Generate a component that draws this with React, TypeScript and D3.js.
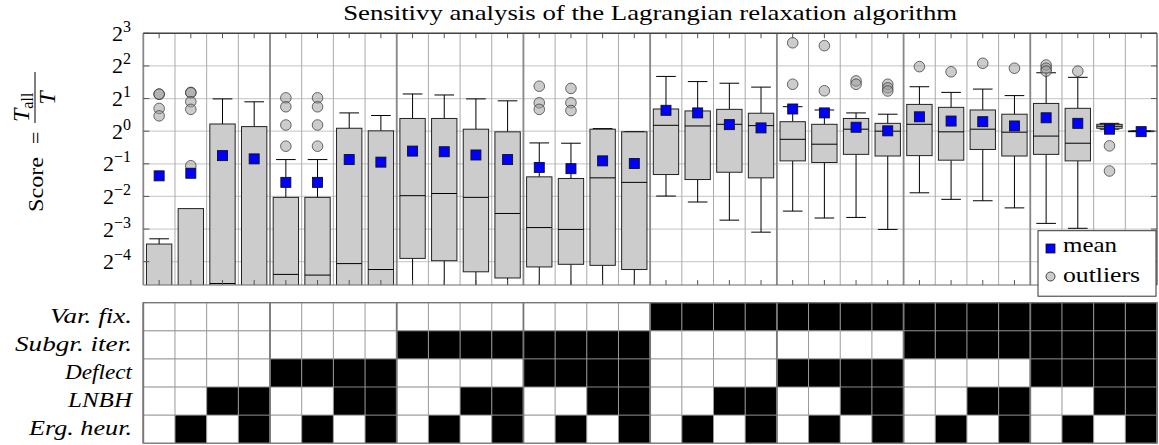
import React from "react";
import * as d3 from "d3";

const W = 1159;
const H = 445;
const plot = { left: 143.3, right: 1157, top: 33.3, bottom: 285 };
const matrix = { top: 302.7, rowH: 28.1 };

const chartTitle = "Sensitivy analysis of the Lagrangian relaxation algorithm";

// per configuration (32 columns), score values
const lowWhisker = [
  0.0078, 0.0078, 0.0078, 0.0078, 0.0078, 0.0078, 0.0078, 0.0078,
  0.0156, 0.0156, 0.0156, 0.0156, 0.0156, 0.0156, 0.0156, 0.0156,
  0.252, 0.222, 0.151, 0.117, 0.183, 0.158, 0.16, 0.124,
  0.27, 0.235, 0.228, 0.196, 0.141, 0.127, 1.043, 1.0,
];
const q1 = [
  0.011, 0.011, 0.0156, 0.011, 0.0156, 0.0156, 0.0156, 0.0156,
  0.067, 0.0638, 0.0504, 0.0442, 0.0559, 0.0591, 0.0578, 0.0529,
  0.398, 0.358, 0.418, 0.371, 0.532, 0.514, 0.611, 0.59,
  0.595, 0.54, 0.678, 0.59, 0.611, 0.532, 1.064, 1.0,
];
const median = [
  0.0221, 0.0221, 0.0393, 0.0272, 0.0477, 0.047, 0.06, 0.0529,
  0.254, 0.266, 0.245, 0.174, 0.129, 0.124, 0.371, 0.337,
  1.133, 1.117, 1.157, 1.125, 0.841, 0.758, 1.043, 1.0,
  1.157, 0.986, 1.043, 0.979, 0.901, 0.774, 1.11, 1.0,
];
const q3 = [
  0.0909, 0.193, 1.165, 1.102, 0.245, 0.245, 1.064, 1.007,
  1.31, 1.31, 1.043, 0.986, 0.379, 0.366, 1.043, 0.986,
  1.602, 1.537, 1.59, 1.464, 1.223, 1.157, 1.31, 1.181,
  1.766, 1.659, 1.569, 1.434, 1.803, 1.625, 1.157, 1.0,
];
const highWhisker = [
  0.1016, 0.102, 1.986, 1.866, 0.547, 0.547, 1.474, 1.395,
  2.204, 2.158, 1.986, 1.905, 0.779, 0.774, 1.057, 0.993,
  3.2, 2.868, 2.77, 2.55, 1.682, 1.569, 1.474, 1.434,
  2.57, 2.28, 2.445, 2.129, 3.46, 3.14, 1.181, 1.0,
];
const means = [
  0.387, 0.409, 0.595, 0.555, 0.337, 0.337, 0.547, 0.518,
  0.655, 0.646, 0.603, 0.547, 0.463, 0.451, 0.532, 0.503,
  1.558, 1.474, 1.149, 1.072, 1.602, 1.474, 1.087, 1.007,
  1.357, 1.24, 1.223, 1.117, 1.329, 1.181, 1.043, 0.99,
];
const outliers: number[][] = [
  [2.19, 2.2, 1.62, 1.385],
  [2.28, 2.26, 1.87, 1.59, 0.48],
  [],
  [],
  [2.03, 1.68, 1.14, 0.727],
  [2.03, 1.68, 1.14, 0.727],
  [],
  [],
  [],
  [],
  [],
  [],
  [2.6, 1.828, 1.59],
  [2.48, 1.83, 1.55],
  [],
  [],
  [],
  [],
  [],
  [],
  [6.54, 2.71],
  [6.15, 2.36],
  [2.91, 2.71],
  [2.71, 2.51, 2.35],
  [3.94],
  [3.53],
  [4.23],
  [3.81],
  [4.08, 3.81, 3.58],
  [3.58],
  [0.732, 0.429],
  [],
];

const yTickExponents = [-4, -3, -2, -1, 0, 1, 2, 3];
const yTickLabels = ["\u22124", "\u22123", "\u22122", "\u22121", "0", "1", "2", "3"];

const factorNames = ["Var. fix.", "Subgr. iter.", "Deflect", "LNBH", "Erg. heur."];
const factorRows = [
  "00000000000000001111111111111111",
  "00000000111111110000000011111111",
  "00001111000011110000111100001111",
  "00110011001100110011001100110011",
  "01010101010101010101010101010101",
];
// rendered widths of the row labels (to mimic the wider TeX font)
const factorLabelWidths = [82, 117, 67, 64, 103];

const serif = "Liberation Serif, Times New Roman, serif";

export default function App() {
  const cols = d3.range(32);
  const x = d3.scaleBand<number>().domain(cols).range([plot.left, plot.right]);
  const bw = x.bandwidth();
  const boxW = bw * 0.8;
  const capW = bw * 0.62;
  const y = d3
    .scaleLog()
    .base(2)
    .domain([Math.pow(2, -4.715), 8])
    .range([plot.bottom, plot.top]);

  const rowY = d3
    .scaleBand<number>()
    .domain(d3.range(5))
    .range([matrix.top, matrix.top + matrix.rowH * 5]);

  const cx = (i: number) => (x(i) as number) + bw / 2;
  const groupEdges = d3.range(0, 33, 4).map((i) => (i < 32 ? (x(i) as number) : plot.right));
  const colEdges = d3.range(1, 32).map((i) => x(i) as number);

  return (
    <svg
      width={W}
      height={H}
      style={{ position: "absolute", left: 0, top: 0, background: "#fff", fontFamily: serif }}
    >
      <defs>
        <clipPath id="plotClip">
          <rect x={plot.left} y={plot.top} width={plot.right - plot.left} height={plot.bottom - plot.top} />
        </clipPath>
      </defs>

      {/* title */}
      <text x={(plot.left + plot.right) / 2} y={20} textAnchor="middle" fontSize={21}
        textLength={614} lengthAdjust="spacingAndGlyphs">
        {chartTitle}
      </text>

      {/* horizontal grid */}
      {yTickExponents.map((e) => (
        <line key={"hg" + e} x1={plot.left} x2={plot.right} y1={y(Math.pow(2, e))} y2={y(Math.pow(2, e))}
          stroke="#cfcfcf" strokeWidth={1.2} />
      ))}
      {/* vertical column lines */}
      {colEdges.map((xx, i) => (
        <line key={"vc" + i} x1={xx} x2={xx} y1={plot.top} y2={plot.bottom} stroke="#aaa" strokeWidth={1} />
      ))}
      {groupEdges.map((xx, i) => (
        <line key={"vg" + i} x1={xx} x2={xx} y1={plot.top} y2={plot.bottom} stroke="#888" strokeWidth={1.8} />
      ))}

      {/* boxes */}
      <g clipPath="url(#plotClip)">
        {cols.map((i) => {
          const c = cx(i);
          return (
            <g key={"b" + i}>
              <line x1={c} x2={c} y1={y(q3[i])} y2={y(highWhisker[i])} stroke="#000" />
              <line x1={c - capW / 2} x2={c + capW / 2} y1={y(highWhisker[i])} y2={y(highWhisker[i])} stroke="#000" />
              <line x1={c} x2={c} y1={y(q1[i])} y2={y(lowWhisker[i])} stroke="#000" />
              <line x1={c - capW / 2} x2={c + capW / 2} y1={y(lowWhisker[i])} y2={y(lowWhisker[i])} stroke="#000" />
              <rect x={c - boxW / 2} y={y(q3[i])} width={boxW} height={Math.max(0.5, y(q1[i]) - y(q3[i]))}
                fill="#cccccc" stroke="#222" strokeWidth={1} />
              <line x1={c - boxW / 2} x2={c + boxW / 2} y1={y(median[i])} y2={y(median[i])} stroke="#000" />
            </g>
          );
        })}
        {cols.map((i) =>
          outliers[i].map((v, k) => (
            <circle key={"o" + i + "-" + k} cx={cx(i)} cy={y(v)} r={5.3}
              fill="#9a9a9a" fillOpacity={0.5} stroke="#333" strokeOpacity={0.8} strokeWidth={0.9} />
          ))
        )}
        {cols.map((i) => (
          <rect key={"m" + i} x={cx(i) - 5} y={y(means[i]) - 5} width={10} height={10}
            fill="#0000ff" stroke="#111" strokeWidth={0.9} />
        ))}
      </g>

      {/* ticks */}
      {cols.map((i) => (
        <g key={"t" + i} stroke="#555" strokeWidth={1}>
          <line x1={cx(i)} x2={cx(i)} y1={plot.top} y2={plot.top + 5} />
          <line x1={cx(i)} x2={cx(i)} y1={plot.bottom} y2={plot.bottom - 5} />
        </g>
      ))}
      {yTickExponents.map((e) => (
        <g key={"yt" + e} stroke="#555" strokeWidth={1}>
          <line x1={plot.left} x2={plot.left + 6} y1={y(Math.pow(2, e))} y2={y(Math.pow(2, e))} />
          <line x1={plot.right} x2={plot.right - 6} y1={y(Math.pow(2, e))} y2={y(Math.pow(2, e))} />
        </g>
      ))}
      {/* frame */}
      <line x1={plot.left} x2={plot.right} y1={plot.top} y2={plot.top} stroke="#444" strokeWidth={1.4} />
      <line x1={plot.left} x2={plot.right} y1={plot.bottom} y2={plot.bottom} stroke="#666" strokeWidth={1} />

      {/* y tick labels */}
      {yTickExponents.map((e, k) => (
        <text key={"yl" + e} x={131} y={y(Math.pow(2, e)) + 7.5} textAnchor="end" fontSize={22}>
          2<tspan dy={-9} fontSize={16}>{yTickLabels[k]}</tspan>
        </text>
      ))}

      {/* y label */}
      <g transform="translate(35,212) rotate(-90)">
        <text x={0} y={8} fontSize={21} textLength={55} lengthAdjust="spacingAndGlyphs">Score</text>
        <text x={68} y={8} fontSize={22}>=</text>
        <line x1={89} x2={140} y1={0} y2={0} stroke="#000" strokeWidth={1} />
        <text x={90} y={-6} fontSize={24} fontStyle="italic">
          T<tspan dy={4} fontSize={16} fontStyle="normal">all</tspan>
        </text>
        <text x={114} y={20} fontSize={24} fontStyle="italic" textAnchor="middle">T</text>
      </g>

      {/* legend */}
      <rect x={1038} y={230.7} width={118} height={65.5} fill="#fff" stroke="#333" strokeWidth={1} />
      <rect x={1046} y={244} width={9} height={9} fill="#0000ff" stroke="#111" strokeWidth={0.8} />
      <text x={1063} y={251.5} fontSize={21} textLength={54} lengthAdjust="spacingAndGlyphs">mean</text>
      <circle cx={1050.5} cy={276.5} r={4.5} fill="#cccccc" stroke="#333" strokeWidth={0.9} />
      <text x={1063} y={281.5} fontSize={21} textLength={77} lengthAdjust="spacingAndGlyphs">outliers</text>

      {/* factor matrix */}
      {factorRows.map((row, r) =>
        row.split("").map((b, i) => (
          <rect key={"c" + r + "-" + i} x={x(i)} y={rowY(r)} width={bw} height={rowY.bandwidth()}
            fill={b === "1" ? "#000" : "#fff"} />
        ))
      )}
      {d3.range(1, 5).map((r) => (
        <line key={"mr" + r} x1={plot.left} x2={plot.right} y1={rowY(r)} y2={rowY(r)} stroke="#888" strokeWidth={1} />
      ))}
      {colEdges.map((xx, i) => (
        <line key={"mc" + i} x1={xx} x2={xx} y1={matrix.top} y2={matrix.top + matrix.rowH * 5}
          stroke="#999" strokeWidth={1} />
      ))}
      {groupEdges.map((xx, i) => (
        <line key={"mg" + i} x1={xx} x2={xx} y1={matrix.top} y2={matrix.top + matrix.rowH * 5}
          stroke="#777" strokeWidth={1.8} />
      ))}
      <rect x={plot.left} y={matrix.top} width={plot.right - plot.left} height={matrix.rowH * 5}
        fill="none" stroke="#777" strokeWidth={1.4} />
      {factorNames.map((n, r) => (
        <text key={"fn" + r} x={132} y={(rowY(r) as number) + rowY.bandwidth() / 2 + 6}
          textAnchor="end" fontSize={22} fontStyle="italic"
          textLength={factorLabelWidths[r]} lengthAdjust="spacingAndGlyphs">
          {n}
        </text>
      ))}
    </svg>
  );
}
